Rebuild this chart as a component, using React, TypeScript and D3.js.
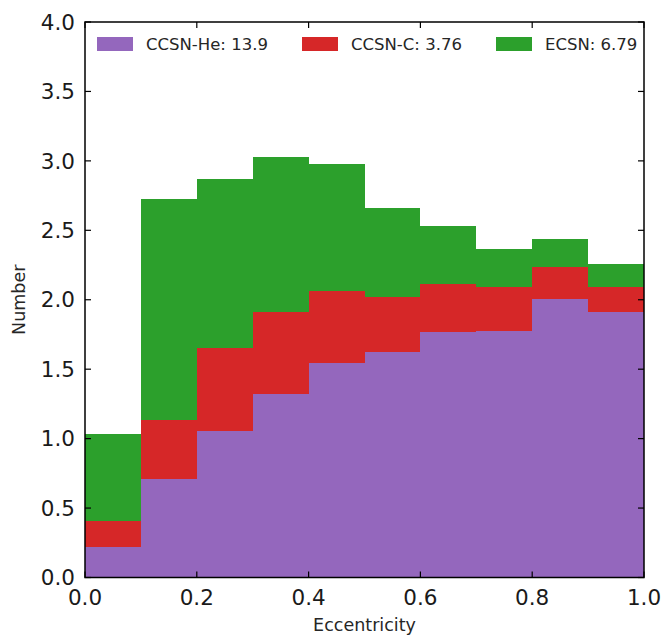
import React from "react";
import * as d3 from "d3";

const binEdges = [0, 0.1, 0.2, 0.3, 0.4, 0.5, 0.6, 0.7, 0.8, 0.9, 1.0];
const ccsnHe = [0.217, 0.709, 1.052, 1.32, 1.541, 1.622, 1.768, 1.778, 2.009, 1.912];
const ccsnC = [0.189, 0.424, 0.601, 0.595, 0.52, 0.398, 0.344, 0.314, 0.227, 0.18];
const ecsn = [0.624, 1.595, 1.219, 1.115, 0.916, 0.643, 0.417, 0.271, 0.199, 0.168];
const seriesKeys = ["He", "C", "EC"];
const seriesLabels = ["CCSN-He: 13.9", "CCSN-C: 3.76", "ECSN: 6.79"];
const seriesColors = ["#9467bd", "#d62728", "#2ca02c"];
const xTicks = [0, 0.2, 0.4, 0.6, 0.8, 1.0];
const yTicks = [0, 0.5, 1.0, 1.5, 2.0, 2.5, 3.0, 3.5, 4.0];

const W = 665;
const H = 637;
const L = 85;
const R = 644;
const T = 22;
const B = 577.5;
const FONT = "DejaVu Sans, sans-serif";

export default function App() {
  const x = d3.scaleLinear().domain([0, 1]).range([L, R]);
  const y = d3.scaleLinear().domain([0, 4]).range([B, T]);
  const rows = ccsnHe.map((v, i) => ({ i, He: v, C: ccsnC[i], EC: ecsn[i] }));
  const stacked = d3.stack<any>().keys(seriesKeys)(rows);
  const legendX = [97, 302, 496];
  return (
    <svg width={W} height={H} style={{ position: "absolute", left: 0, top: 0, background: "#fff" }}>
      <g shapeRendering="crispEdges">
        {stacked.map((layer, si) =>
          layer.map((d, bi) => (
            <rect
              key={`${si}-${bi}`}
              x={x(binEdges[bi])}
              width={x(binEdges[bi + 1]) - x(binEdges[bi])}
              y={y(d[1])}
              height={y(d[0]) - y(d[1])}
              fill={seriesColors[si]}
            />
          ))
        )}
      </g>
      {xTicks.map((t) => (
        <g key={`xt${t}`}>
          <line x1={x(t)} x2={x(t)} y1={B} y2={B - 6} stroke="#000" strokeWidth={1.2} />
          <line x1={x(t)} x2={x(t)} y1={T} y2={T + 6} stroke="#000" strokeWidth={1.2} />
          <text x={x(t)} y={605} textAnchor="middle" fontFamily={FONT} fontSize={21.5} fill="#1a1a1a">
            {t.toFixed(1)}
          </text>
        </g>
      ))}
      {yTicks.map((t) => (
        <g key={`yt${t}`}>
          <line x1={L} x2={L + 6} y1={y(t)} y2={y(t)} stroke="#000" strokeWidth={1.2} />
          <line x1={R} x2={R - 6} y1={y(t)} y2={y(t)} stroke="#000" strokeWidth={1.2} />
          <text x={75} y={y(t)} dy="0.36em" textAnchor="end" fontFamily={FONT} fontSize={21.5} fill="#1a1a1a">
            {t.toFixed(1)}
          </text>
        </g>
      ))}
      <rect x={L} y={T} width={R - L} height={B - T} fill="none" stroke="#000" strokeWidth={1.5} />
      {seriesLabels.map((lab, i) => (
        <g key={lab}>
          <rect x={legendX[i]} y={37} width={36} height={14} fill={seriesColors[i]} />
          <text x={legendX[i] + 49} y={50} fontFamily={FONT} fontSize={16.5} fill="#262626">
            {lab}
          </text>
        </g>
      ))}
      <text x={(L + R) / 2} y={631} textAnchor="middle" fontFamily={FONT} fontSize={17.5} fill="#262626">
        Eccentricity
      </text>
      <text
        transform={`translate(25, ${(T + B) / 2}) rotate(-90)`}
        textAnchor="middle"
        fontFamily={FONT}
        fontSize={17.5}
        fill="#262626"
      >
        Number
      </text>
    </svg>
  );
}
